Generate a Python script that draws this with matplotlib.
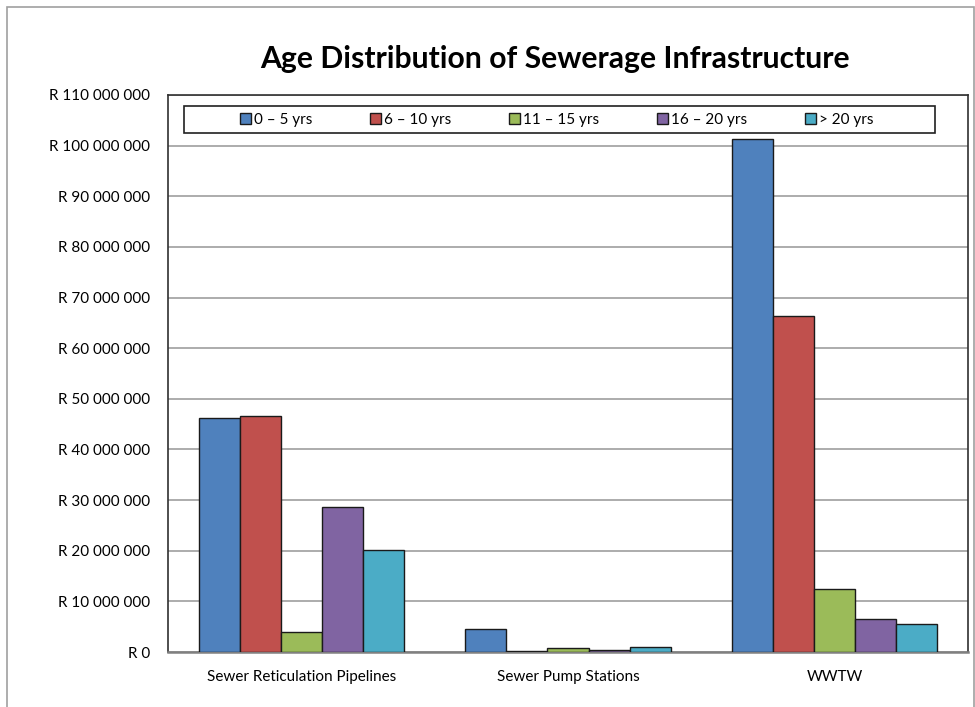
import numpy as np
import matplotlib.pyplot as plt
from matplotlib.patches import Rectangle
from matplotlib.ticker import FuncFormatter, MultipleLocator

plt.rcParams['font.family'] = ['Lato', 'DejaVu Sans']

categories = ['Sewer Reticulation Pipelines', 'Sewer Pump Stations', 'WWTW']
age_bands = ['0 – 5 yrs', '6 – 10 yrs', '11 – 15 yrs', '16 – 20 yrs', '> 20 yrs']
# replacement value in rand, one list per age band
yrs_0_5 = [46300000, 4500000, 101400000]
yrs_6_10 = [46600000, 150000, 66400000]
yrs_11_15 = [4000000, 800000, 12500000]
yrs_16_20 = [28600000, 450000, 6500000]
yrs_20_plus = [20200000, 900000, 5600000]
series = [yrs_0_5, yrs_6_10, yrs_11_15, yrs_16_20, yrs_20_plus]
colors = ['#4F81BD', '#C0504D', '#9BBB59', '#8064A2', '#4BACC6']


def rand_fmt(v, pos):
    return 'R ' + '{:,.0f}'.format(v).replace(',', ' ')


fig = plt.figure(figsize=(9.75, 7.07), dpi=100)
fig.patches.append(Rectangle((7 / 975, -0.01), 967 / 975, 1 - 7 / 707 + 0.01,
                             transform=fig.transFigure, fill=False,
                             edgecolor='#a0a0a0', linewidth=1.2))
ax = fig.add_axes([168 / 975, 55 / 707, 800 / 975, 557 / 707])

x = np.arange(len(categories))
group = 1 / 1.3
w = group / len(series)
for i, (vals, c, lab) in enumerate(zip(series, colors, age_bands)):
    ax.bar(x - group / 2 + w * (i + 0.5), vals, width=w, color=c,
           edgecolor='#1a1a1a', linewidth=1.0, label=lab, zorder=3)

ax.set_xlim(-0.5, 2.5)
ax.set_ylim(0, 110000000)
ax.yaxis.set_major_locator(MultipleLocator(10000000))
ax.yaxis.set_major_formatter(FuncFormatter(rand_fmt))
ax.grid(axis='y', color='#a6a6a6', linewidth=1.3, zorder=0)
ax.set_xticks(x)
ax.set_xticklabels(categories)
ax.tick_params(axis='both', length=0, labelsize=11, colors='black')
ax.tick_params(axis='x', pad=13)
ax.tick_params(axis='y', pad=13)
for side in ['top', 'right', 'left']:
    ax.spines[side].set_color('#303030')
    ax.spines[side].set_linewidth(1.2)
ax.spines['bottom'].set_color('#808080')
ax.spines['bottom'].set_linewidth(1.8)

fig.text(0.569, 0.917, 'Age Distribution of Sewerage Infrastructure',
         ha='center', va='center', fontsize=21.7, fontweight='bold')

# legend frame drawn separately so it can be wider than the entries
ax.add_patch(Rectangle((0.02, 0.932), 0.939, 0.048, transform=ax.transAxes,
                       facecolor='white', edgecolor='#202020', linewidth=1.2,
                       zorder=4))
leg = ax.legend(ncol=5, loc='center', bbox_to_anchor=(0.486, 0.956),
                fontsize=11, frameon=False, columnspacing=3.8,
                handlelength=0.7, handleheight=0.7, handletextpad=0.2,
                borderaxespad=0)
leg.set_zorder(5)

fig.savefig('out.png', dpi=100)
